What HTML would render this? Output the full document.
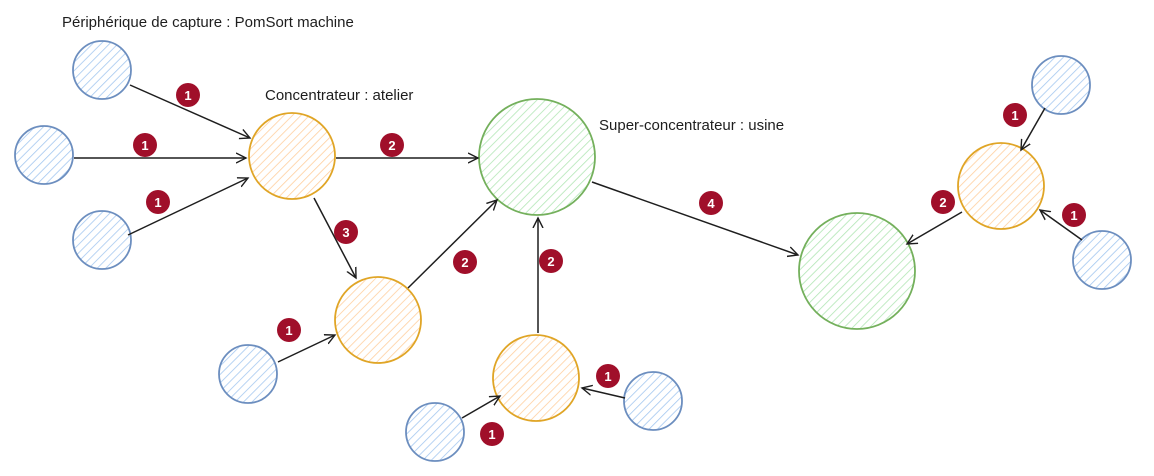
<!DOCTYPE html>
<html><head><meta charset="utf-8"><style>
html,body{margin:0;padding:0;background:#fff;width:1154px;height:476px;overflow:hidden}
text{font-family:"Liberation Sans",sans-serif}
</style></head><body>
<svg width="1154" height="476" xmlns="http://www.w3.org/2000/svg">
<defs>
<pattern id="hb" width="6" height="6" patternUnits="userSpaceOnUse" patternTransform="rotate(45)"><line x1="0" y1="0" x2="0" y2="6" stroke="#a5c8f0" stroke-width="1.6"/></pattern>
<pattern id="ho" width="6" height="6" patternUnits="userSpaceOnUse" patternTransform="rotate(45)"><line x1="0" y1="0" x2="0" y2="6" stroke="#ffcf9e" stroke-width="1.6"/></pattern>
<pattern id="hg" width="6" height="6" patternUnits="userSpaceOnUse" patternTransform="rotate(45)"><line x1="0" y1="0" x2="0" y2="6" stroke="#b2e6b5" stroke-width="1.6"/></pattern>
<marker id="a" markerWidth="12" markerHeight="12" refX="10" refY="6" orient="auto" markerUnits="userSpaceOnUse"><path d="M0,1 L10,6 L0,11" fill="none" stroke="#1e1e1e" stroke-width="1.4"/></marker>
</defs>
<g fill="url(#hb)" stroke="#6c8ebf" stroke-width="1.8">
<circle cx="102" cy="70" r="29"/><circle cx="44" cy="155" r="29"/><circle cx="102" cy="240" r="29"/>
<circle cx="248" cy="374" r="29"/><circle cx="435" cy="432" r="29"/><circle cx="653" cy="401" r="29"/>
<circle cx="1061" cy="85" r="29"/><circle cx="1102" cy="260" r="29"/>
</g>
<g fill="url(#ho)" stroke="#e0a526" stroke-width="1.8">
<circle cx="292" cy="156" r="43"/><circle cx="378" cy="320" r="43"/><circle cx="536" cy="378" r="43"/><circle cx="1001" cy="186" r="43"/>
</g>
<g fill="url(#hg)" stroke="#74b05c" stroke-width="1.8">
<circle cx="537" cy="157" r="58"/><circle cx="857" cy="271" r="58"/>
</g>
<g stroke="#1e1e1e" stroke-width="1.5" fill="none" marker-end="url(#a)">
<line x1="130" y1="85" x2="250" y2="138"/><line x1="74" y1="158" x2="246" y2="158"/><line x1="128" y1="235" x2="248" y2="178"/>
<line x1="336" y1="158" x2="478" y2="158"/><line x1="314" y1="198" x2="356" y2="278"/><line x1="408" y1="288" x2="497" y2="200"/>
<line x1="278" y1="362" x2="335" y2="335"/><line x1="538" y1="333" x2="538" y2="218"/><line x1="462" y1="418" x2="500" y2="396"/>
<line x1="625" y1="398" x2="582" y2="388"/><line x1="592" y1="182" x2="798" y2="255"/><line x1="1045" y1="108" x2="1021" y2="150"/>
<line x1="962" y1="212" x2="907" y2="244"/><line x1="1082" y1="240" x2="1040" y2="210"/>
</g>
<g font-size="13" font-weight="bold" fill="#fff" text-anchor="middle">
<g><circle cx="188" cy="95" r="12" fill="#a00f2a"/><text x="188" y="100">1</text></g>
<g><circle cx="145" cy="145" r="12" fill="#a00f2a"/><text x="145" y="150">1</text></g>
<g><circle cx="158" cy="202" r="12" fill="#a00f2a"/><text x="158" y="207">1</text></g>
<g><circle cx="392" cy="145" r="12" fill="#a00f2a"/><text x="392" y="150">2</text></g>
<g><circle cx="346" cy="232" r="12" fill="#a00f2a"/><text x="346" y="237">3</text></g>
<g><circle cx="465" cy="262" r="12" fill="#a00f2a"/><text x="465" y="267">2</text></g>
<g><circle cx="551" cy="261" r="12" fill="#a00f2a"/><text x="551" y="266">2</text></g>
<g><circle cx="711" cy="203" r="12" fill="#a00f2a"/><text x="711" y="208">4</text></g>
<g><circle cx="289" cy="330" r="12" fill="#a00f2a"/><text x="289" y="335">1</text></g>
<g><circle cx="608" cy="376" r="12" fill="#a00f2a"/><text x="608" y="381">1</text></g>
<g><circle cx="492" cy="434" r="12" fill="#a00f2a"/><text x="492" y="439">1</text></g>
<g><circle cx="1015" cy="115" r="12" fill="#a00f2a"/><text x="1015" y="120">1</text></g>
<g><circle cx="943" cy="202" r="12" fill="#a00f2a"/><text x="943" y="207">2</text></g>
<g><circle cx="1074" cy="215" r="12" fill="#a00f2a"/><text x="1074" y="220">1</text></g>
</g>
<g font-size="15" fill="#1e1e1e">
<text x="62" y="27">Périphérique de capture : PomSort machine</text>
<text x="265" y="100">Concentrateur : atelier</text>
<text x="599" y="130">Super-concentrateur : usine</text>
</g>
</svg>
</body></html>
